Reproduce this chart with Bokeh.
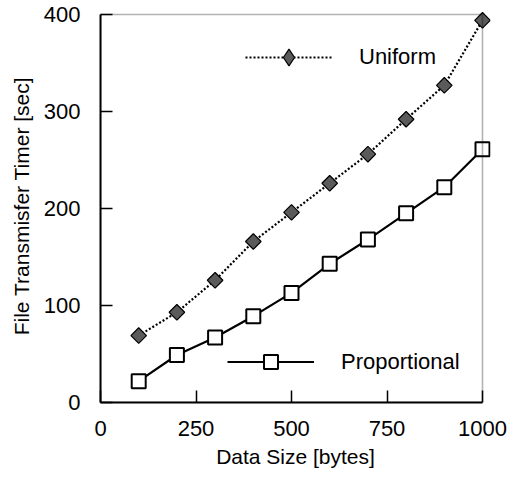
import numpy as np
from bokeh.plotting import figure
from bokeh.models import FixedTicker, Legend, LegendItem, Range1d, BoxAnnotation
from bokeh.embed import file_html
from bokeh.resources import INLINE

# ---- data ----
data_size = [100, 200, 300, 400, 500, 600, 700, 800, 900, 1000]
uniform = [69, 93, 126, 166, 196, 226, 256, 292, 327, 394]
proportional = [22, 49, 67, 89, 113, 143, 168, 195, 222, 261]
x_ticks = [0, 250, 500, 750, 1000]
y_ticks = [0, 100, 200, 300, 400]
x_title = "Data Size [bytes]"
y_title = "File Transmisfer Timer [sec]"
series_names = ["Uniform", "Proportional"]

FONT = "Liberation Sans"
X_MAX, Y_MAX = 1000, 400
FW, FH = 390, 393            # frame a bit larger so end markers are not clipped
X_END = X_MAX * FW / 382.0
Y_END = Y_MAX * FH / 388.0

p = figure(width=532, height=480, frame_width=FW, frame_height=FH,
           x_range=Range1d(0, X_END), y_range=Range1d(0, Y_END),
           output_backend="svg", toolbar_location=None,
           min_border_left=100, min_border_top=14 - (FH - 388),
           min_border_right=532 - 100 - FW, min_border_bottom=78)
p.grid.visible = False
p.background_fill_color = "white"
p.border_fill_color = "white"
p.outline_line_color = None

for ax in (p.xaxis[0], p.yaxis[0]):
    ax.major_tick_in = 12
    ax.major_tick_out = 0
    ax.minor_tick_line_color = None
    ax.major_tick_line_width = 1.5
    ax.major_tick_line_color = "black"
    ax.axis_line_color = "black"
    ax.axis_line_width = 2
    ax.major_label_text_font = FONT
    ax.major_label_text_font_size = "22px"
    ax.major_label_text_color = "black"
    ax.axis_label_text_font = FONT
    ax.axis_label_text_font_size = "21px"
    ax.axis_label_text_font_style = "normal"
    ax.axis_label_text_color = "black"

p.xaxis.ticker = FixedTicker(ticks=x_ticks)
p.yaxis.ticker = FixedTicker(ticks=y_ticks)
p.xaxis.bounds = (0, X_MAX)
p.yaxis.bounds = (0, Y_MAX)
p.xaxis.axis_label = x_title
p.yaxis.axis_label = y_title
p.xaxis.major_label_standoff = 18
p.xaxis.axis_label_standoff = 6
p.yaxis.major_label_standoff = 20
p.yaxis.axis_label_standoff = 8

# the plot box, drawn at the data limits
p.add_layout(BoxAnnotation(left=0, right=X_MAX, bottom=0, top=Y_MAX,
                           fill_alpha=0, line_color="black", line_width=1.6))

# off-screen range used only to feed the legend key glyph
p.extra_x_ranges = {"key": Range1d(-1e6, -1e6 + 1)}

# Uniform: dotted line with dark diamonds
u_line = p.line(data_size, uniform, line_color="black", line_width=2.2,
                line_dash="2 2")
u_pts = p.scatter(data_size, uniform, marker="square", angle=np.pi / 4,
                  size=11, fill_color="#5a5a5a", line_color="black",
                  line_width=1.2)
u_key = p.scatter(data_size, uniform, x_range_name="key", marker="diamond",
                  size=17, fill_color="#5a5a5a", line_color="black",
                  line_width=1.2)

# Proportional: solid line with open squares
p_line = p.line(data_size, proportional, line_color="black", line_width=2.2)
p_pts = p.scatter(data_size, proportional, marker="square", size=14,
                  fill_color="white", line_color="black", line_width=2)


def make_legend(name, renderers, loc, gh):
    return Legend(items=[LegendItem(label=name, renderers=renderers)],
                  location=loc, glyph_width=87, glyph_height=gh,
                  label_height=20, label_standoff=27, padding=0, margin=0,
                  border_line_color=None, background_fill_alpha=0,
                  label_text_font=FONT, label_text_font_size="22px",
                  label_text_color="black")


p.add_layout(make_legend(series_names[0], [u_line, u_key], (145, 324), 42))
p.add_layout(make_legend(series_names[1], [p_line, p_pts], (127, 23), 35))

open("out.html", "w").write(file_html(p, INLINE))
